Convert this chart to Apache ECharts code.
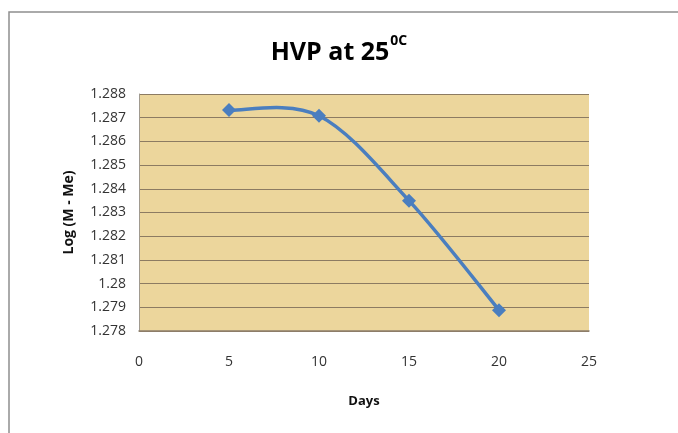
<!DOCTYPE html>
<html><head><meta charset="utf-8">
<script src="https://cdn.jsdelivr.net/npm/echarts@6/dist/echarts.min.js"></script>
<style>html,body{margin:0;padding:0;background:#fff}#c{width:678px;height:433px}</style>
</head><body><div id="c"></div>
<script>
const days = [5, 10, 15, 20];
const logValues = [1.28732, 1.28708, 1.28350, 1.27888];
const yTicks = {min: 1.278, max: 1.288, step: 0.001};
const xTicks = {min: 0, max: 25, step: 5};

const points = days.map((d, i) => [d, logValues[i]]);

// Excel-like smoothed curve (Catmull-Rom Bezier) through points mapped by the axes
function renderCurve(params, api) {
  if (params.dataIndex !== 0) return null;
  const p = points.map(pt => api.coord(pt));
  let d = 'M' + p[0][0] + ' ' + p[0][1];
  for (let i = 0; i < p.length - 1; i++) {
    const p0 = p[Math.max(i - 1, 0)], p1 = p[i], p2 = p[i + 1], p3 = p[Math.min(i + 2, p.length - 1)];
    const c1 = [p1[0] + (p2[0] - p0[0]) / 6, p1[1] + (p2[1] - p0[1]) / 6];
    const c2 = [p2[0] - (p3[0] - p1[0]) / 6, p2[1] - (p3[1] - p1[1]) / 6];
    d += ' C' + c1[0] + ' ' + c1[1] + ' ' + c2[0] + ' ' + c2[1] + ' ' + p2[0] + ' ' + p2[1];
  }
  return {type: 'path', shape: {pathData: d}, style: {fill: null, stroke: '#4a7ebf', lineWidth: 3.5}};
}

const chart = echarts.init(document.getElementById('c'));
chart.setOption({
  backgroundColor: '#fff',
  graphic: [{type:'rect', shape:{x:9,y:12,width:700,height:440}, style:{fill:'none', stroke:'#8f8f8f', lineWidth:1.5}, z:-1}],
  title: {
    text: '{m|HVP at 25}{s|0C}',
    left: 'center', top: 29,
    textStyle: { rich: {
      m: {fontFamily:'Open Sans', fontWeight:'bold', fontSize:25, color:'#000', padding:[6,0,0,0]},
      s: {fontFamily:'Open Sans', fontWeight:'bold', fontSize:14, color:'#000', verticalAlign:'top', padding:[0,0,6,1]}
    }}
  },
  grid: {left:139, right:89, top:94, bottom:102, show:true, backgroundColor:'#ecd69c', borderWidth:0},
  xAxis: {
    type:'value', min:xTicks.min, max:xTicks.max, interval:xTicks.step,
    name:'Days', nameLocation:'middle', nameGap:64,
    nameTextStyle:{fontFamily:'Open Sans', fontWeight:'bold', fontSize:13, color:'#111'},
    axisLine:{show:true, lineStyle:{color:'#8d7f6c', width:1.5}},
    axisTick:{show:false}, splitLine:{show:false},
    axisLabel:{fontFamily:'Open Sans', fontSize:14, color:'#333', margin:24}
  },
  yAxis: {
    type:'value', min:yTicks.min, max:yTicks.max, interval:yTicks.step,
    name:'Log (M - Me)', nameLocation:'middle', nameGap:63,
    nameTextStyle:{fontFamily:'Open Sans', fontWeight:'bold', fontSize:14, color:'#111'},
    axisLine:{show:true, lineStyle:{color:'#a09a90'}},
    axisTick:{show:false},
    splitLine:{show:true, lineStyle:{color:'#8c7b62', width:1}},
    axisLabel:{fontFamily:'Open Sans', fontSize:14, color:'#333', margin:13,
      formatter: v => String(Number(v.toFixed(3)))}
  },
  series: [{
    type:'custom', renderItem: renderCurve, data: points, clip:false, z:2, silent:true
  }, {
    type:'scatter', data: points, symbol:'diamond', symbolSize:14, z:3,
    itemStyle:{color:'#4a7ebf', opacity:1}
  }]
});
</script></body></html>
